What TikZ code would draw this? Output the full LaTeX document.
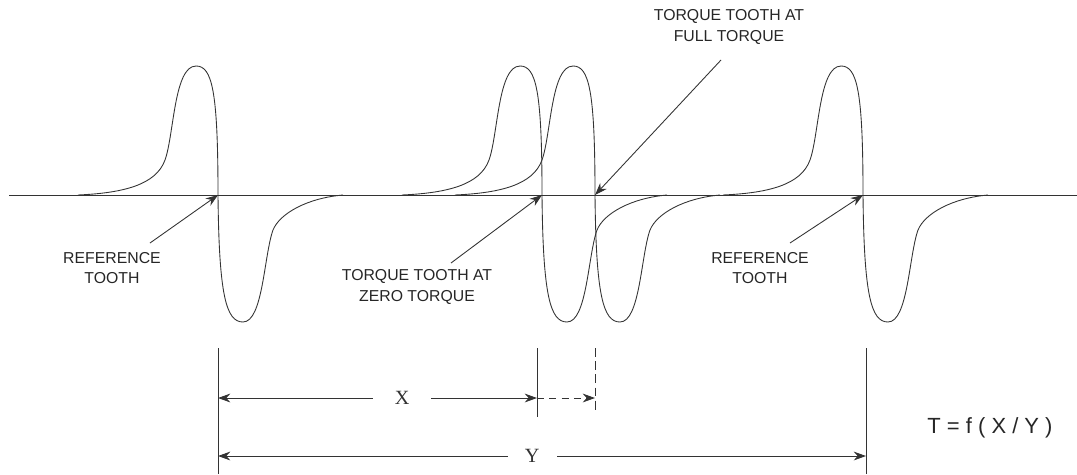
\documentclass[tikz,border=0pt]{standalone}
\usepackage{fontspec}
\setmainfont{Liberation Serif}
\setsansfont{Liberation Sans}
\usetikzlibrary{arrows.meta}

\begin{document}
\begin{tikzpicture}[
  x=0.02cm, y=-0.02cm,
  wave/.style={line width=0.5pt, black!80},
  lbl/.style={font=\sffamily\fontsize{9}{11.8}\selectfont, align=center, text=black!85, inner sep=0pt},
  arrow/.style={-{Stealth[length=7pt,width=5pt]}, line width=0.5pt, black!80},
  dim/.style={{Stealth[length=7pt,width=5pt]}-{Stealth[length=7pt,width=5pt]}, line width=0.5pt, black!80},
  ext/.style={line width=0.5pt, black!80},
  letter/.style={font=\fontsize{11.5}{13}\selectfont, fill=white, inner sep=0pt, minimum height=0.4cm},
  tooth/.pic={
    \draw[wave] (-140,0) .. controls (-95,-2) and (-62,-10) .. (-53,-35)
      .. controls (-44,-60) and (-44,-129) .. (-22,-129)
      .. controls (-6,-129) and (0,-105) .. (0,0)
      .. controls (1,100) and (8,127) .. (25,127)
      .. controls (45,127) and (46,60) .. (55,35)
      .. controls (62,18) and (90,3) .. (125,0);
  }
]
\useasboundingbox (0,0) rectangle (1077,474);

% axis and teeth
\coordinate (axl) at (9,195);
\coordinate (axr) at (1077,195);
\draw[wave] (axl) -- (axr);
\coordinate (ref1) at (218,195);
\coordinate (zero) at (542,195);
\coordinate (full) at (595,195);
\coordinate (ref2) at (863,195);
\pic (t1) at (ref1) {tooth};
\pic (t2) at (zero) {tooth};
\pic (t3) at (full) {tooth};
\pic (t4) at (ref2) {tooth};

% labels
\node[lbl] (lref1) at (112,268) {REFERENCE\\TOOTH};
\node[lbl] (lzero) at (417,287) {TORQUE TOOTH AT\\ZERO TORQUE};
\node[lbl] (lfull) at (729,27) {TORQUE TOOTH AT\\FULL TORQUE};
\node[lbl] (lref2) at (760,268) {REFERENCE\\TOOTH};
\coordinate (a1) at (150,243);
\coordinate (a2) at (451,263);
\coordinate (a3) at (721,60);
\coordinate (a4) at (790,243);
\draw[arrow] (a1) -- (ref1);
\draw[arrow] (a2) -- (zero);
\draw[arrow] (a3) -- (full);
\draw[arrow] (a4) -- (ref2);

% dimensions
\coordinate (e1t) at (218,348);
\coordinate (e1b) at (218,474);
\coordinate (e2t) at (537,348);
\coordinate (e2b) at (537,417);
\coordinate (e3t) at (595,348);
\coordinate (e3b) at (595,412);
\coordinate (e4t) at (866,348);
\coordinate (e4b) at (866,474);
\draw[ext] (e1t) -- (e1b);
\draw[ext] (e2t) -- (e2b);
\draw[ext, dash pattern=on 5pt off 2.5pt] (e3t) -- (e3b);
\draw[ext] (e4t) -- (e4b);

\coordinate (xl) at (218,398);
\coordinate (xr) at (537,398);
\coordinate (fr) at (595,398);
\coordinate (yl) at (218,456);
\coordinate (yr) at (866,456);
\draw[dim] (xl) -- node[letter, pos=0.577, minimum width=1.16cm] (lx) {X} (xr);
\draw[arrow, dash pattern=on 4pt off 3pt] (xr) -- (fr);
\draw[dim] (yl) -- node[letter, pos=0.485, minimum width=0.98cm] (ly) {Y} (yr);

\node[font=\sffamily\fontsize{12.5}{14}\selectfont, text=black!85, inner sep=0pt] (formula) at (990,428) {T = f ( X / Y )};
\end{tikzpicture}
\end{document}
